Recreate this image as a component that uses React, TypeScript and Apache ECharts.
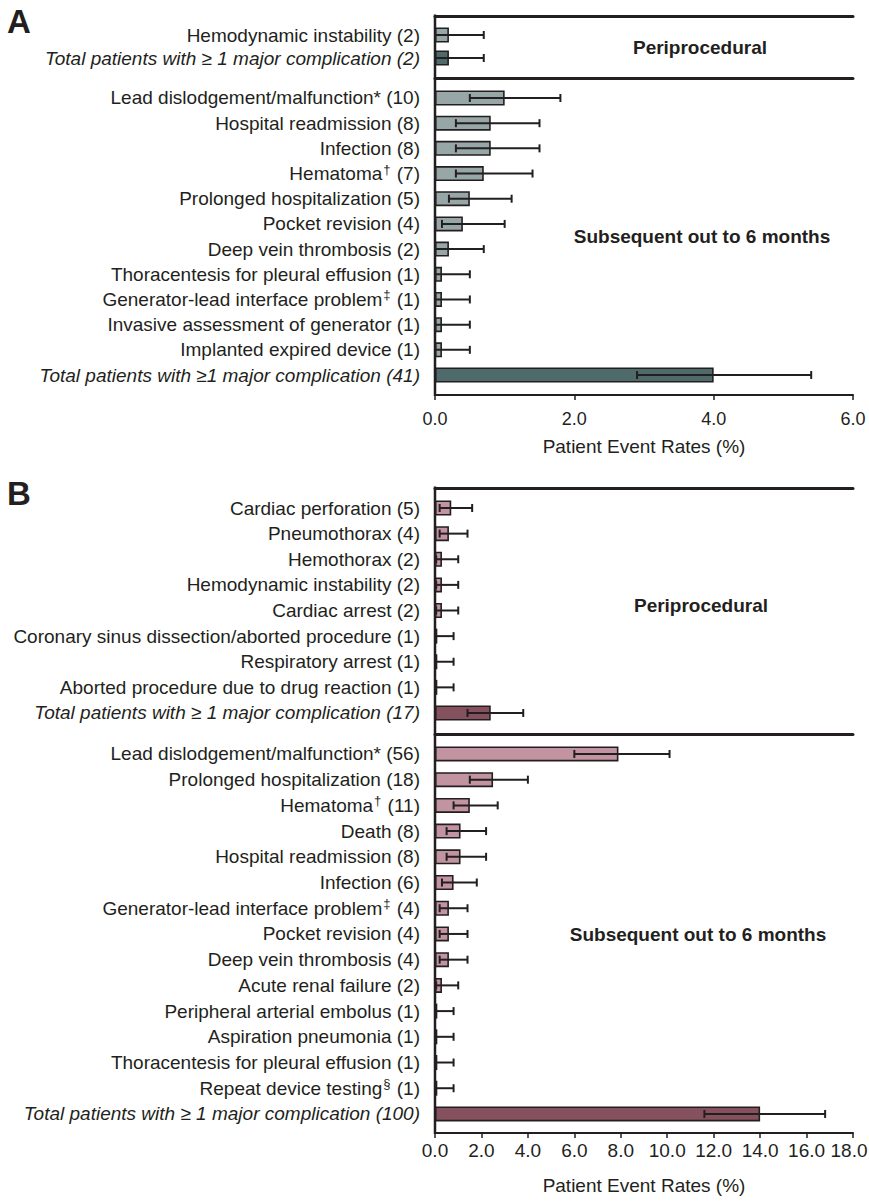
import React, { useEffect, useRef } from "react";
import * as echarts from "echarts";

// ---------- Data ----------
const aPeriCats = [
  "Hemodynamic instability (2)",
  "Total patients with ≥ 1 major complication (2)",
];
const aPeriVals = [0.2, 0.2];
const aPeriLow = [0.0, 0.0];
const aPeriHigh = [0.7, 0.7];

const aSubCats = [
  "Lead dislodgement/malfunction* (10)",
  "Hospital readmission (8)",
  "Infection (8)",
  "Hematoma† (7)",
  "Prolonged hospitalization (5)",
  "Pocket revision (4)",
  "Deep vein thrombosis (2)",
  "Thoracentesis for pleural effusion (1)",
  "Generator-lead interface problem‡ (1)",
  "Invasive assessment of generator (1)",
  "Implanted expired device (1)",
  "Total patients with ≥1 major complication (41)",
];
const aSubVals = [1.0, 0.8, 0.8, 0.7, 0.5, 0.4, 0.2, 0.1, 0.1, 0.1, 0.1, 4.0];
const aSubLow = [0.5, 0.3, 0.3, 0.3, 0.2, 0.1, 0.0, 0.0, 0.0, 0.0, 0.0, 2.9];
const aSubHigh = [1.8, 1.5, 1.5, 1.4, 1.1, 1.0, 0.7, 0.5, 0.5, 0.5, 0.5, 5.4];

const bPeriCats = [
  "Cardiac perforation (5)",
  "Pneumothorax (4)",
  "Hemothorax (2)",
  "Hemodynamic instability (2)",
  "Cardiac arrest (2)",
  "Coronary sinus dissection/aborted procedure (1)",
  "Respiratory arrest (1)",
  "Aborted procedure due to drug reaction (1)",
  "Total patients with ≥ 1 major complication (17)",
];
const bPeriVals = [0.7, 0.6, 0.3, 0.3, 0.3, 0.1, 0.1, 0.1, 2.4];
const bPeriLow = [0.2, 0.2, 0.05, 0.05, 0.05, 0.0, 0.0, 0.0, 1.4];
const bPeriHigh = [1.6, 1.4, 1.0, 1.0, 1.0, 0.8, 0.8, 0.8, 3.8];

const bSubCats = [
  "Lead dislodgement/malfunction* (56)",
  "Prolonged hospitalization (18)",
  "Hematoma† (11)",
  "Death (8)",
  "Hospital readmission (8)",
  "Infection (6)",
  "Generator-lead interface problem‡ (4)",
  "Pocket revision (4)",
  "Deep vein thrombosis (4)",
  "Acute renal failure (2)",
  "Peripheral arterial embolus (1)",
  "Aspiration pneumonia (1)",
  "Thoracentesis for pleural effusion (1)",
  "Repeat device testing§ (1)",
  "Total patients with ≥ 1 major complication (100)",
];
const bSubVals = [7.9, 2.5, 1.5, 1.1, 1.1, 0.8, 0.6, 0.6, 0.6, 0.3, 0.1, 0.1, 0.1, 0.1, 14.0];
const bSubLow = [6.0, 1.5, 0.8, 0.5, 0.5, 0.3, 0.2, 0.2, 0.2, 0.05, 0.0, 0.0, 0.0, 0.0, 11.6];
const bSubHigh = [10.1, 4.0, 2.7, 2.2, 2.2, 1.8, 1.4, 1.4, 1.4, 1.0, 0.8, 0.8, 0.8, 0.8, 16.8];

const aTicks = { min: 0, max: 6, interval: 2 };
const bTicks = { min: 0, max: 18, interval: 2 };

// ---------- Style ----------
const INK = "#231f20";
const FONT = "'Liberation Sans', Arial, Helvetica, sans-serif";
const A_LIGHT = "#97a6a7";
const A_DARK = "#4f6a6b";
const B_LIGHT = "#c293a0";
const B_DARK = "#85515f";

const LEFT = 435;
const RIGHT = 16;

type Panel = {
  cats: string[];
  vals: number[];
  low: number[];
  high: number[];
  top: number;
  height: number;
  topOffset: number;
  ticks: { min: number; max: number; interval: number };
  light: string;
  dark: string;
  bottomAxis?: { offset: number; margin: number; fontSize: number; nameGap: number; lastPad: number };
};

const panels: Panel[] = [
  { cats: aPeriCats, vals: aPeriVals, low: aPeriLow, high: aPeriHigh, top: 23.5, height: 46, topOffset: 7.5, ticks: aTicks, light: A_LIGHT, dark: A_DARK },
  { cats: aSubCats, vals: aSubVals, low: aSubLow, high: aSubHigh, top: 85.4, height: 302.2, topOffset: 7.4, ticks: aTicks, light: A_LIGHT, dark: A_DARK, bottomAxis: { offset: 7.4, margin: 15, fontSize: 18, nameGap: 42, lastPad: 0 } },
  { cats: bPeriCats, vals: bPeriVals, low: bPeriLow, high: bPeriHigh, top: 495.2, height: 230.6, topOffset: 7.2, ticks: bTicks, light: B_LIGHT, dark: B_DARK },
  { cats: bSubCats, vals: bSubVals, low: bSubLow, high: bSubHigh, top: 741.1, height: 385.7, topOffset: 7.1, ticks: bTicks, light: B_LIGHT, dark: B_DARK, bottomAxis: { offset: 6.2, margin: 8, fontSize: 19, nameGap: 43, lastPad: 8 } },
];

function labelFormatter(v: string): string {
  if (v.startsWith("Total")) return `{it|${v}}`;
  const m = v.match(/^(.*?)([†‡§])(.*)$/);
  if (m) return `{n|${m[1]}}{sup|${m[2]}}{n|${m[3]}}`;
  return `{n|${v}}`;
}

function buildOption() {
  const grid: any[] = [];
  const xAxis: any[] = [];
  const yAxis: any[] = [];
  const series: any[] = [];

  panels.forEach((p, i) => {
    grid.push({
      left: LEFT,
      right: RIGHT,
      top: p.top,
      height: p.height,
      containLabel: false,
      outerBoundsMode: "none",
    });
    const b = p.bottomAxis;
    const fs = b ? b.fontSize : 18;
    xAxis.push({
      type: "value",
      gridIndex: i,
      position: "bottom",
      min: p.ticks.min,
      max: p.ticks.max,
      interval: p.ticks.interval,
      show: !!b,
      offset: b ? b.offset : 0,
      splitLine: { show: false },
      axisLine: { show: true, onZero: false, lineStyle: { color: INK, width: 2 } },
      axisTick: { show: true, length: 5, lineStyle: { color: INK, width: 1.5 } },
      axisLabel: {
        show: true,
        margin: b ? b.margin : 8,
        fontSize: fs,
        color: INK,
        fontFamily: FONT,
        formatter: (v: number) =>
          v === p.ticks.max && b && b.lastPad > 0 ? `{last|${v.toFixed(1)}}` : v.toFixed(1),
        rich: {
          last: { fontSize: fs, color: INK, fontFamily: FONT, padding: [0, b ? b.lastPad : 0, 0, 0] },
        },
      },
      name: "Patient Event Rates (%)",
      nameLocation: "middle",
      nameGap: b ? b.nameGap : 40,
      nameTextStyle: { fontSize: 19, color: INK, fontFamily: FONT },
    });
    xAxis.push({
      type: "value",
      gridIndex: i,
      position: "top",
      min: p.ticks.min,
      max: p.ticks.max,
      interval: p.ticks.interval,
      offset: p.topOffset,
      splitLine: { show: false },
      axisLine: { show: true, onZero: false, lineStyle: { color: INK, width: 3 } },
      axisTick: { show: false },
      axisLabel: { show: false },
    });
    yAxis.push({
      type: "category",
      gridIndex: i,
      data: p.cats,
      inverse: true,
      axisLine: { show: false },
      axisTick: { show: false },
      splitLine: { show: false },
      axisLabel: {
        interval: 0,
        margin: 15,
        fontSize: 19,
        color: INK,
        fontFamily: FONT,
        formatter: labelFormatter,
        rich: {
          n: { fontSize: 19, color: INK, fontFamily: FONT, lineHeight: 22 },
          it: { fontSize: 19, color: INK, fontFamily: FONT, fontStyle: "italic", lineHeight: 22 },
          sup: { fontSize: 13, color: INK, fontFamily: FONT, verticalAlign: "top", lineHeight: 22, padding: [0, 1, 0, 1] },
        },
      },
    });
    series.push({
      type: "bar",
      xAxisIndex: i * 2,
      yAxisIndex: i,
      barWidth: 15,
      data: p.vals.map((v, k) => ({
        value: v,
        itemStyle: {
          color: p.cats[k].startsWith("Total") ? p.dark : p.light,
          borderColor: INK,
          borderWidth: 1.6,
        },
      })),
      z: 2,
    });
    series.push({
      type: "custom",
      xAxisIndex: i * 2,
      yAxisIndex: i,
      z: 5,
      encode: { x: [0, 1], y: 2 },
      data: p.low.map((lo, k) => [lo, p.high[k], k]),
      renderItem: (params: any, api: any) => {
        const yi = api.value(2);
        const a = api.coord([api.value(0), yi]);
        const c = api.coord([api.value(1), yi]);
        const h = 4;
        const st = { stroke: INK, lineWidth: 2 };
        return {
          type: "group",
          children: [
            { type: "line", shape: { x1: a[0], y1: a[1], x2: c[0], y2: c[1] }, style: st },
            { type: "line", shape: { x1: a[0], y1: a[1] - h, x2: a[0], y2: a[1] + h }, style: st },
            { type: "line", shape: { x1: c[0], y1: c[1] - h, x2: c[0], y2: c[1] + h }, style: st },
          ],
        };
      },
    });
  });

  const boldText = (text: string, x: number, y: number) => ({
    type: "text",
    x,
    y,
    style: {
      text,
      fill: INK,
      font: `bold 19px ${FONT}`,
      textAlign: "center",
      textVerticalAlign: "middle",
    },
  });

  const graphic: any[] = [
    { type: "line", shape: { x1: LEFT, y1: 14.5, x2: LEFT, y2: 396 }, style: { stroke: INK, lineWidth: 2.5 } },
    { type: "line", shape: { x1: LEFT, y1: 486.5, x2: LEFT, y2: 1134 }, style: { stroke: INK, lineWidth: 2.5 } },
    { type: "text", x: 7, y: 5, style: { text: "A", fill: INK, font: `bold 33px ${FONT}` } },
    { type: "text", x: 7, y: 477, style: { text: "B", fill: INK, font: `bold 33px ${FONT}` } },
    boldText("Periprocedural", 700, 47),
    boldText("Subsequent out to 6 months", 702, 236),
    boldText("Periprocedural", 701, 605),
    boldText("Subsequent out to 6 months", 698, 934),
  ];

  return {
    animation: false,
    backgroundColor: "#ffffff",
    grid,
    xAxis,
    yAxis,
    series,
    graphic,
  };
}

export default function App() {
  const ref = useRef<HTMLDivElement>(null);
  useEffect(() => {
    if (!ref.current) return;
    const chart = echarts.init(ref.current, undefined, { renderer: "svg" });
    chart.setOption(buildOption() as any);
    return () => chart.dispose();
  }, []);
  return (
    <div
      ref={ref}
      style={{ position: "absolute", left: 0, top: 0, width: 869, height: 1201, background: "#fff" }}
    />
  );
}
